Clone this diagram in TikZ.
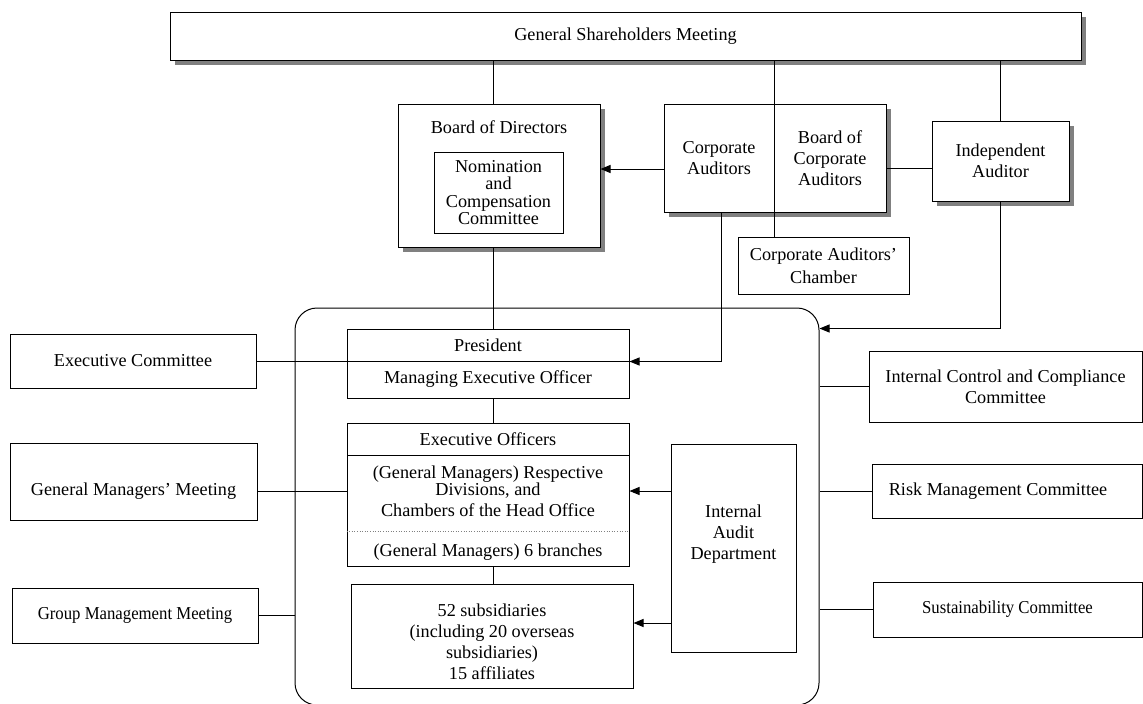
\documentclass[tikz,border=0pt]{standalone}
\usepackage{fontspec}
\setmainfont{Liberation Serif}
\usetikzlibrary{arrows.meta,shadows,calc}
\definecolor{shadowgray}{HTML}{808080}
\begin{document}
\begin{tikzpicture}[x=1pt,y=-1pt,line width=1pt,
  every node/.style={font=\fontsize{18.2}{21}\selectfont,inner sep=0pt},
  box/.style={draw,fill=white},
  wh/.style 2 args={minimum width=#1pt,minimum height=#2pt},
  shadowed/.style={drop shadow={shadow xshift=5pt,shadow yshift=-5pt,fill=shadowgray,opacity=1}},
  arr/.style={-{Triangle[length=10pt,width=8pt]}}]
\useasboundingbox (0,0) rectangle (1143,704);
\clip (0,0) rectangle (1143,704);

% top level
\node[box,shadowed,wh={911}{48}] (gsm) at (625.5,36) {General Shareholders Meeting};
\node[box,shadowed,wh={202}{143}] (bod) at (499,175.5) {};
\node (bodt) at (499,127) {Board of Directors};
\node[box,wh={129}{81},align=center,font=\fontsize{18.2}{17.5}\selectfont] (nom) at (498.5,192.5) {Nomination\\and\\Compensation\\Committee};
\node[box,shadowed,wh={110}{108},align=center] (ca) at (719,158) {Corporate\\Auditors};
\node[box,shadowed,wh={112}{108},align=center] (bca) at (830,158) {Board of\\Corporate\\Auditors};
\node[box,shadowed,wh={137}{80},align=center] (ia) at (1000.5,161) {Independent\\Auditor};
\node[box,wh={171}{57},align=center,font=\fontsize{18.2}{23}\selectfont] (cac) at (823.5,265.5) {Corporate Auditors’\\Chamber};

% executive group
\node[draw,rounded corners=22pt,wh={524}{397}] (grp) at (557,506.5) {};
\node[box,wh={282}{32}] (pres) at (488,345) {President};
\node[box,wh={282}{37}] (meo) at (488,379.5) {Managing Executive Officer};
\node[box,wh={282}{32}] (eo) at (488,439) {Executive Officers};
\node[box,wh={282}{111}] (divs) at (488,510.5) {};
\node[align=center,font=\fontsize{18.2}{17}\selectfont] (divt) at (488,491) {(General Managers) Respective\\Divisions, and\\[4pt]Chambers of the Head Office};
\coordinate (dl) at (0,531);
\draw[dotted,gray,line width=0.6pt] (divs.west |- dl) -- (divs.east |- dl);
\node (brt) at (488,552) {(General Managers) 6 branches};
\node[box,wh={282}{104}] (sub) at (492,636) {};
\node[align=center] (subt) at (492,642) {52 subsidiaries\\(including 20 overseas\\subsidiaries)\\15 affiliates};
\node[box,wh={125}{208}] (iad) at (733.5,548) {};
\node[align=center] (iadt) at (733.5,534) {Internal\\Audit\\Department};

% side committees
\node[box,wh={246}{54}] (ec) at (133,361) {Executive Committee};
\node[box,wh={247}{77}] (gmm) at (133.5,481.5) {};
\node (gmmt) at (133.5,491) {General Managers’ Meeting};
\node[box,wh={246}{55}] (grmm) at (135,615.5) {\scalebox{0.92}[1]{Group Management Meeting}};
\node[box,wh={273}{71},align=center] (icc) at (1005.5,386.5) {Internal Control and Compliance\\Committee};
\node[box,wh={270}{54}] (rmc) at (1007,491) {};
\node (rmct) at (998,491) {Risk Management Committee};
\node[box,wh={269}{55}] (sus) at (1007.5,609.5) {\scalebox{0.92}[1]{Sustainability Committee}};

% connectors
\coordinate (spine) at (493,0);
\draw (gsm.south -| spine) -- (bod.north -| spine);
\draw (gsm.south -| ca.east) -- (cac.north -| ca.east);
\draw (gsm.south -| ia.north) -- (ia.north);
\coordinate (a1) at ([yshift=-11pt]ca.west);
\draw[arr] (a1) -- (a1 -| bod.east);
\coordinate (a2) at ([yshift=-7pt]ia.west);
\draw (a2 -| bca.east) -- (a2);
\draw[arr] ([xshift=2pt]ca.south) |- (pres.south east);
\draw[arr] (ia.south) |- (grp.east |- pres.north);
\draw (bod.south -| spine) -- (pres.north -| spine);
\draw (meo.south -| spine) -- (eo.north -| spine);
\draw (divs.south -| spine) -- (sub.north -| spine);
\draw (ec.east) -- (ec.east -| pres.west);
\draw (gmmt.east -| gmm.east) -- (gmmt.east -| divs.west);
\draw (grmm.east) -- (grmm.east -| grp.west);
\draw (icc.west) -- (icc.west -| grp.east);
\draw (rmc.west) -- (rmc.west -| grp.east);
\draw (sus.west) -- (sus.west -| grp.east);
\draw[arr] (iad.west |- gmmt.east) -- (divs.east |- gmmt.east);
\coordinate (a3) at ([yshift=13pt]sub.east);
\draw[arr] (iad.west |- a3) -- (a3);
\end{tikzpicture}
\end{document}
